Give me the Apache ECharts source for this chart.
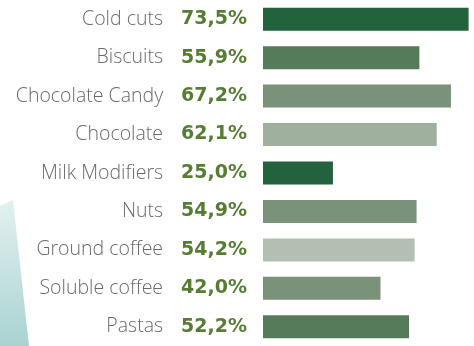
<!DOCTYPE html>
<html>
<head>
<meta charset="utf-8">
<script src="https://cdn.jsdelivr.net/npm/echarts@6/dist/echarts.min.js"></script>
<style>
	html, body { margin: 0; padding: 0; background: #fff; }
	#chart { width: 474px; height: 346px; }
</style>
</head>
<body>
<div id="chart"></div>
<script>
const categories = ['Cold cuts', 'Biscuits', 'Chocolate Candy', 'Chocolate', 'Milk Modifiers', 'Nuts', 'Ground coffee', 'Soluble coffee', 'Pastas'];
const values = [73.5, 55.9, 67.2, 62.1, 25.0, 54.9, 54.2, 42.0, 52.2];
const barColors = ['#22623c', '#557b5a', '#7a917a', '#a0b09e', '#22623c', '#7a917a', '#b3bfb2', '#7a917a', '#557b5a'];

const chartDom = document.getElementById('chart');
const myChart = echarts.init(chartDom);

// value text keyed by category, written with a comma like the original
const valueText = {};
categories.forEach((c, i) => {
	valueText[c] = values[i].toFixed(1).replace('.', ',') + '%';
});

const option = {
	animation: false,
	backgroundColor: '#ffffff',
	graphic: [
		{
			type: 'polygon',
			z: -10,
			shape: { points: [[0, 206], [13, 200], [29, 346], [0, 346]] },
			style: {
				fill: {
					type: 'linear', x: 0, y: 0, x2: 0, y2: 1,
					colorStops: [
						{ offset: 0, color: '#e3f1f0' },
						{ offset: 1, color: '#a9d3d2' },
					],
				},
			},
		},
	],
	grid: { left: 263, right: 4, top: -4, bottom: -4 },
	xAxis: {
		type: 'value',
		min: 0,
		max: 74,
		show: false,
	},
	yAxis: {
		type: 'category',
		inverse: true,
		data: categories,
		axisLine: { show: false },
		axisTick: { show: false },
		axisLabel: {
			margin: 16,
			formatter: (v) => `{n|${v}}{v|${valueText[v]}}`,
			rich: {
				n: {
					fontFamily: 'Open Sans',
					fontWeight: 300,
					fontSize: 19.5,
					color: '#6a6a6a',
					padding: [0, 18, 0, 0],
				},
				v: {
					fontFamily: 'DejaVu Sans',
					fontWeight: 'bold',
					fontSize: 19,
					color: '#567d33',
				},
			},
		},
	},
	series: [
		{
			type: 'bar',
			barWidth: 23,
			data: values.map((v, i) => ({ value: v, itemStyle: { color: barColors[i] } })),
		},
	],
};
option && myChart.setOption(option);
</script>
</body>
</html>
